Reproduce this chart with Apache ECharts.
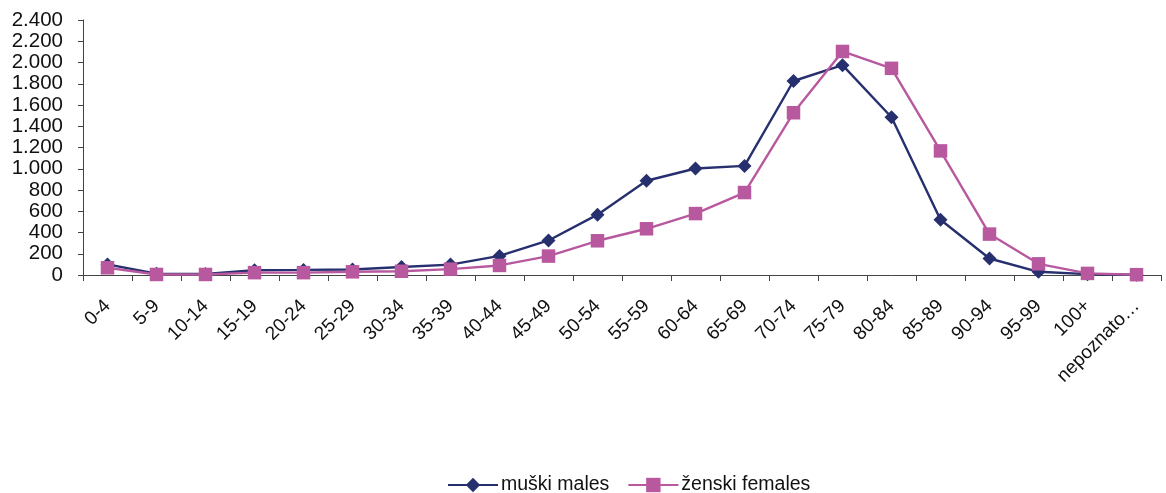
<!DOCTYPE html>
<html>
<head>
<meta charset="utf-8">
<script src="https://cdn.jsdelivr.net/npm/echarts@6/dist/echarts.min.js"></script>
<style>html,body{margin:0;padding:0;background:#fff;}#c{width:1166px;height:493px;}</style>
</head>
<body>
<div id="c"></div>
<script>
var categories = ['0-4','5-9','10-14','15-19','20-24','25-29','30-34','35-39','40-44','45-49','50-54','55-59','60-64','65-69','70-74','75-79','80-84','85-89','90-94','95-99','100+','nepoznato…'];
var males = [100,12,10,45,48,52,75,98,180,325,568,887,1002,1027,1826,1975,1485,520,155,30,8,2];
var females = [68,5,5,22,22,30,35,55,90,178,322,435,578,776,1527,2104,1945,1168,385,105,15,3];
var yTicks = {min:0, max:2400, interval:200};
var seriesNames = ['muški males','ženski females'];

function fmt(v){ return String(v).replace(/\B(?=(\d{3})+(?!\d))/g,'.'); }

var chart = echarts.init(document.getElementById('c'));
chart.setOption({
  animation:false,
  grid:{left:83,right:5,top:20,bottom:218,containLabel:false},
  legend:{
    top:470,left:442,itemWidth:50,itemHeight:18,itemGap:18,
    textStyle:{fontFamily:'Liberation Sans, Arial',fontSize:19.5,color:'#111',padding:[0,0,0,-2]},
    data:seriesNames
  },
  xAxis:{
    type:'category',data:categories,boundaryGap:true,
    axisLine:{lineStyle:{color:'#444',width:1}},
    axisTick:{show:true,length:6,alignWithLabel:false,lineStyle:{color:'#444'}},
    axisLabel:{interval:0,rotate:45,margin:28,fontFamily:'Liberation Sans, Arial',fontSize:19,color:'#111'},
    splitLine:{show:false}
  },
  yAxis:{
    type:'value',min:yTicks.min,max:yTicks.max,interval:yTicks.interval,
    axisLine:{show:true,lineStyle:{color:'#444',width:1}},
    axisTick:{show:true,length:5,lineStyle:{color:'#444'}},
    axisLabel:{formatter:fmt,margin:20,fontFamily:'Liberation Sans, Arial',fontSize:20.5,color:'#111'},
    splitLine:{show:false}
  },
  series:[
    {name:seriesNames[0],type:'line',data:males,symbol:'diamond',symbolSize:14,
     lineStyle:{color:'#27306F',width:2.4},itemStyle:{color:'#27306F'},z:2},
    {name:seriesNames[1],type:'line',data:females,symbol:'rect',symbolSize:13.5,
     lineStyle:{color:'#B8589F',width:2.4},itemStyle:{color:'#B8589F'},z:3}
  ]
});
</script>
</body>
</html>
